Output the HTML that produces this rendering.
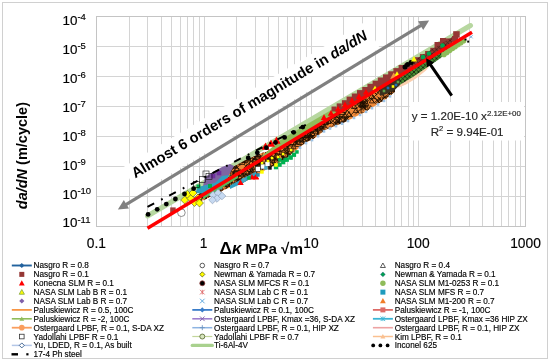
<!DOCTYPE html>
<html><head><meta charset="utf-8"><style>
html,body{margin:0;padding:0;background:#fff;}
svg{display:block;will-change:transform;}
text{paint-order:stroke;}
.lg{stroke:#000;stroke-width:0.15px;}
</style></head><body>
<svg width="550" height="361" viewBox="0 0 550 361">
<rect x="2.5" y="2.5" width="545" height="356" fill="#fff" stroke="#d0d0d0" stroke-width="1"/>
<path d="M129.5 16.5V226.5 M147.5 16.5V226.5 M161.5 16.5V226.5 M171.5 16.5V226.5 M180.5 16.5V226.5 M187.5 16.5V226.5 M193.5 16.5V226.5 M199.5 16.5V226.5 M204.5 16.5V226.5 M236.5 16.5V226.5 M255.5 16.5V226.5 M268.5 16.5V226.5 M278.5 16.5V226.5 M287.5 16.5V226.5 M294.5 16.5V226.5 M300.5 16.5V226.5 M306.5 16.5V226.5 M311.5 16.5V226.5 M343.5 16.5V226.5 M362.5 16.5V226.5 M375.5 16.5V226.5 M386.5 16.5V226.5 M394.5 16.5V226.5 M401.5 16.5V226.5 M408.5 16.5V226.5 M413.5 16.5V226.5 M418.5 16.5V226.5 M450.5 16.5V226.5 M469.5 16.5V226.5 M482.5 16.5V226.5 M493.5 16.5V226.5 M501.5 16.5V226.5 M508.5 16.5V226.5 M515.5 16.5V226.5 M520.5 16.5V226.5 M96.5 46.5H525.5 M96.5 76.5H525.5 M96.5 106.5H525.5 M96.5 136.5H525.5 M96.5 166.5H525.5 M96.5 196.5H525.5" stroke="#d4d4d4" stroke-width="1" fill="none"/>
<rect x="96.5" y="16.5" width="429" height="210" fill="none" stroke="#c4c4c4" stroke-width="1"/>
<g transform="translate(135.2,178.6) rotate(-31.0)"><rect x="-5" y="-16" width="282" height="30" fill="#fff"/><text x="0" y="0" font-family='"Liberation Sans", sans-serif' font-size="14.8" font-weight="bold" fill="#000">Almost 6 orders of magnitude in <tspan font-style="italic">da/dN</tspan></text></g>
<defs><pattern id="xh" width="5" height="5" patternUnits="userSpaceOnUse"><path d="M0 0L5 5M5 0L0 5M-1 4L1 6M4 -1L6 1" stroke="#2a1200" stroke-width="1.5"/></pattern><pattern id="xh2" width="4.5" height="4.5" patternUnits="userSpaceOnUse"><path d="M0 0L4.5 4.5M4.5 0L0 4.5" stroke="#000" stroke-width="0.7"/></pattern></defs>
<line x1="147.5" y1="216" x2="470.5" y2="25.5" stroke="#b7d7a0" stroke-width="5" stroke-linecap="round"/>
<polygon points="196.0,203.0 205.0,199.6 215.0,194.5 225.0,189.5 235.0,185.4 245.0,181.4 255.0,176.4 265.0,170.3 275.0,165.3 285.0,159.2 295.0,151.2 305.0,143.1 315.0,138.1 325.0,130.1 335.0,126.0 345.0,122.0 355.0,116.9 365.0,111.9 375.0,105.8 385.0,99.8 395.0,91.8 395.0,77.8 300.0,135.2 270.0,150.3 250.0,158.4 235.0,166.4 222.0,175.3 210.0,185.6 196.0,196.0" fill="#f08a3a" />
<clipPath id="clo"><polygon points="196.0,203.0 205.0,199.6 215.0,194.5 225.0,189.5 235.0,185.4 245.0,181.4 255.0,176.4 265.0,170.3 275.0,165.3 285.0,159.2 295.0,151.2 305.0,143.1 315.0,138.1 325.0,130.1 335.0,126.0 345.0,122.0 355.0,116.9 365.0,111.9 375.0,105.8 385.0,99.8 395.0,91.8 395.0,77.8 300.0,135.2 270.0,150.3 250.0,158.4 235.0,166.4 222.0,175.3 210.0,185.6 196.0,196.0"/></clipPath>
<path d="M284.1 144.1L290.7 150.7M284.1 150.7L290.7 144.1 M296.2 137.5L301.0 142.4M296.2 142.4L301.0 137.5 M320.9 125.4L325.5 130.0M320.9 130.0L325.5 125.4 M211.3 188.8L217.3 194.9M211.3 194.9L217.3 188.8 M391.4 88.5h6.0v6.0h-6.0z M225.0 168.2L230.6 173.9M225.0 173.9L230.6 168.2 M232.2 169.1L236.7 173.6M232.2 173.6L236.7 169.1 M282.2 152.8h5.6v5.6h-5.6z M294.2 139.9L299.7 145.4M294.2 145.4L299.7 139.9 M394.3 86.4h6.4v6.4h-6.4z M257.1 154.0L262.2 159.1M257.1 159.1L262.2 154.0 M347.6 102.3L354.0 108.7M347.6 108.7L354.0 102.3 M387.3 90.4L391.7 94.8M387.3 94.8L391.7 90.4 M376.5 86.8L383.3 93.6M376.5 93.6L383.3 86.8 M207.6 187.8L213.9 194.0M207.6 194.0L213.9 187.8 M210.2 181.3h6.7v6.7h-6.7z M217.5 177.4L222.2 182.0M217.5 182.0L222.2 177.4 M354.1 94.0L359.9 99.7M354.1 99.7L359.9 94.0 M232.2 178.2h4.7v4.7h-4.7z M217.1 180.3L222.0 185.2M217.1 185.2L222.0 180.3 M392.1 87.1L394.7 91.7H389.6z M235.3 168.8h6.5v6.5h-6.5z M213.8 191.3L218.7 196.2M213.8 196.2L218.7 191.3 M349.5 100.6L354.6 105.7M349.5 105.7L354.6 100.6 M211.7 185.8h5.0v5.0h-5.0z M267.7 151.5L274.4 158.2M267.7 158.2L274.4 151.5 M309.6 134.5L314.5 139.4M309.6 139.4L314.5 134.5 M377.0 96.3L382.0 101.3M377.0 101.3L382.0 96.3 M345.4 118.0L347.8 122.4H342.9z M371.5 94.1L376.9 99.5M371.5 99.5L376.9 94.1 M201.3 197.0h5.0v5.0h-5.0z M245.0 173.3L250.8 179.1M245.0 179.1L250.8 173.3 M229.2 179.5L233.7 184.1M229.2 184.1L233.7 179.5 M306.1 135.3L311.9 141.2M306.1 141.2L311.9 135.3 M379.1 80.7L383.5 85.2M379.1 85.2L383.5 80.7 M283.6 134.6L288.4 139.4M283.6 139.4L288.4 134.6 M311.6 120.1L314.2 124.9H308.9z M391.0 81.9h6.1v6.1h-6.1z M224.4 171.3L226.6 175.3H222.1z M335.4 122.0h4.5v4.5h-4.5z M293.4 144.1L296.0 148.8H290.8z M211.2 186.3L214.3 191.8H208.1z M344.9 112.4L348.0 118.0H341.7z M267.1 159.0L270.4 164.9H263.8z M277.0 154.0h6.5v6.5h-6.5z M319.3 117.9h5.8v5.8h-5.8z M212.2 186.9L215.6 193.0H208.8z M340.0 106.4h6.2v6.2h-6.2z M282.7 153.2h4.6v4.6h-4.6z M199.2 192.2L204.8 197.8M199.2 197.8L204.8 192.2 M337.1 112.0L340.0 117.3H334.1z M245.1 156.5h5.1v5.1h-5.1z M233.6 165.3h6.6v6.6h-6.6z M282.7 153.9h5.2v5.2h-5.2z M236.1 170.9L239.3 176.6H232.9z M370.9 88.9L376.7 94.7M370.9 94.7L376.7 88.9 M223.5 178.6L226.7 184.3H220.3z M337.1 120.6L342.2 125.6M337.1 125.6L342.2 120.6 M284.6 138.8L289.5 143.7M284.6 143.7L289.5 138.8 M322.4 120.2L325.0 124.8H319.8z M392.1 77.9L396.7 82.4M392.1 82.4L396.7 77.9 M369.3 81.4h6.1v6.1h-6.1z M256.2 167.5L260.6 171.9M256.2 171.9L260.6 167.5 M284.7 131.9L291.1 138.2M284.7 138.2L291.1 131.9 M221.5 170.7L227.4 176.6M221.5 176.6L227.4 170.7 M323.3 122.0L326.4 127.7H320.1z M331.5 107.6L337.0 113.2M331.5 113.2L337.0 107.6 M195.1 192.0L201.2 198.1M195.1 198.1L201.2 192.0 M248.0 161.2L254.1 167.3M248.0 167.3L254.1 161.2 M317.4 126.7h5.3v5.3h-5.3z M375.7 78.2h6.6v6.6h-6.6z M222.2 178.8L225.2 184.1H219.3z M268.9 153.7h6.5v6.5h-6.5z M383.8 82.7L389.7 88.7M383.8 88.7L389.7 82.7 M338.9 116.4h5.9v5.9h-5.9z M239.1 178.4L242.5 184.5H235.7z M304.5 137.0L307.0 141.6H301.9z M366.6 91.6L371.2 96.2M366.6 96.2L371.2 91.6 M304.4 134.8L309.9 140.4M304.4 140.4L309.9 134.8 M356.3 89.6L362.6 95.9M356.3 95.9L362.6 89.6 M261.3 164.1L266.0 168.8M261.3 168.8L266.0 164.1 M297.1 138.2h6.4v6.4h-6.4z M383.7 82.9L390.4 89.5M383.7 89.5L390.4 82.9 M238.2 171.1h5.1v5.1h-5.1z M321.8 118.2h6.4v6.4h-6.4z M259.0 157.1L262.2 162.9H255.7z M234.7 177.9L241.4 184.6M234.7 184.6L241.4 177.9 M308.9 121.2L314.6 126.9M308.9 126.9L314.6 121.2 M314.9 113.3L321.6 120.0M314.9 120.0L321.6 113.3 M274.0 156.7L279.8 162.4M274.0 162.4L279.8 156.7 M332.7 104.1L338.4 109.8M332.7 109.8L338.4 104.1 M386.8 92.1L391.8 97.1M386.8 97.1L391.8 92.1 M221.6 178.6L224.8 184.3H218.5z M289.8 136.3h4.9v4.9h-4.9z M379.8 77.0L386.0 83.3M379.8 83.3L386.0 77.0 M232.2 167.6L238.2 173.7M232.2 173.7L238.2 167.6 M265.5 158.1h4.7v4.7h-4.7z M218.3 181.0L223.3 186.0M218.3 186.0L223.3 181.0 M300.5 131.1L305.8 136.4M300.5 136.4L305.8 131.1 M300.5 126.1h4.9v4.9h-4.9z M321.7 118.4h6.4v6.4h-6.4z M369.1 87.9L372.2 93.5H366.0z M378.3 84.8L380.9 89.5H375.8z M236.8 180.1L243.3 186.6M236.8 186.6L243.3 180.1 M241.8 173.5L246.9 178.5M241.8 178.5L246.9 173.5 M361.0 95.4L367.2 101.7M361.0 101.7L367.2 95.4 M275.1 154.4L279.6 158.8M275.1 158.8L279.6 154.4 M330.5 121.4L337.2 128.1M330.5 128.1L337.2 121.4 M295.3 140.9h5.6v5.6h-5.6z M231.9 165.9L236.5 170.6M231.9 170.6L236.5 165.9 M304.6 129.7L310.3 135.5M304.6 135.5L310.3 129.7 M233.3 168.1L236.5 173.9H230.1z M383.2 76.9L385.5 81.0H381.0z M286.7 147.9L291.9 153.1M286.7 153.1L291.9 147.9 M297.2 132.8L303.0 138.6M297.2 138.6L303.0 132.8 M335.2 119.4L340.0 124.2M335.2 124.2L340.0 119.4 M342.9 106.3L347.8 111.1M342.9 111.1L347.8 106.3 M299.5 124.5L302.8 130.4H296.3z M335.4 118.8L341.3 124.7M335.4 124.7L341.3 118.8 M317.1 123.3L320.5 129.4H313.7z M245.1 174.8h6.2v6.2h-6.2z M360.6 96.9L363.8 102.8H357.3z M333.2 117.6L339.5 123.9M333.2 123.9L339.5 117.6 M339.4 100.7L344.6 105.9M339.4 105.9L344.6 100.7 M195.2 190.5h5.9v5.9h-5.9z M239.9 178.1L245.9 184.1M239.9 184.1L245.9 178.1 M326.4 117.4L332.1 123.1M326.4 123.1L332.1 117.4 M394.9 78.7h6.1v6.1h-6.1z M391.0 67.9h5.9v5.9h-5.9z M245.6 165.0L250.1 169.5M245.6 169.5L250.1 165.0 M271.9 143.9L274.4 148.4H269.4z M303.8 129.3h6.7v6.7h-6.7z M393.8 79.2L400.2 85.5M393.8 85.5L400.2 79.2 M316.7 129.7L319.0 133.8H314.4z M225.9 176.4L230.7 181.2M225.9 181.2L230.7 176.4 M316.1 113.2L322.8 119.9M316.1 119.9L322.8 113.2 M299.8 134.7L305.0 140.0M299.8 140.0L305.0 134.7 M325.8 118.0h5.1v5.1h-5.1z M253.3 151.7L258.3 156.7M253.3 156.7L258.3 151.7 M227.6 181.5L230.3 186.3H225.0z M347.2 96.4L350.6 102.5H343.8z M208.1 192.4L213.6 197.9M208.1 197.9L213.6 192.4 M392.6 73.9L395.4 79.0H389.8z M342.0 108.4L345.4 114.5H338.6z M315.0 115.6L320.9 121.5M315.0 121.5L320.9 115.6 M234.3 163.3L240.0 169.0M234.3 169.0L240.0 163.3 M282.7 148.5L288.2 154.0M282.7 154.0L288.2 148.5 M310.5 124.1L316.7 130.4M310.5 130.4L316.7 124.1 M394.4 85.6L400.6 91.8M394.4 91.8L400.6 85.6 M215.9 187.6h6.3v6.3h-6.3z M265.5 149.2h6.0v6.0h-6.0z M312.4 127.3L318.6 133.5M312.4 133.5L318.6 127.3 M246.3 177.0L249.6 183.0H243.0z M201.5 183.6L206.5 188.6M201.5 188.6L206.5 183.6 M319.1 113.0L324.8 118.7M319.1 118.7L324.8 113.0 M210.6 187.3h5.7v5.7h-5.7z M268.9 152.8L273.8 157.7M268.9 157.7L273.8 152.8 M344.2 115.4L348.7 120.0M344.2 120.0L348.7 115.4 M356.3 102.7L362.6 109.0M356.3 109.0L362.6 102.7 M278.5 141.0L284.9 147.3M278.5 147.3L284.9 141.0 M325.4 126.0L330.6 131.2M325.4 131.2L330.6 126.0 M344.0 116.6L349.4 122.1M344.0 122.1L349.4 116.6 M213.3 189.9L217.9 194.5M213.3 194.5L217.9 189.9 M306.9 127.6L313.0 133.6M306.9 133.6L313.0 127.6 M350.2 94.6h4.9v4.9h-4.9z M209.4 181.8h6.1v6.1h-6.1z M250.5 156.0h5.3v5.3h-5.3z M267.0 144.9h6.1v6.1h-6.1z M378.3 97.2L384.8 103.7M378.3 103.7L384.8 97.2 M355.6 96.5L360.8 101.7M355.6 101.7L360.8 96.5 M382.3 94.9L387.3 99.9M382.3 99.9L387.3 94.9 M267.2 150.9L272.5 156.2M267.2 156.2L272.5 150.9 M232.2 173.8L238.5 180.1M232.2 180.1L238.5 173.8 M362.5 99.0h4.8v4.8h-4.8z M371.7 87.0L376.2 91.5M371.7 91.5L376.2 87.0 M302.6 131.1h6.7v6.7h-6.7z M355.6 90.5h5.7v5.7h-5.7z M213.0 178.0L216.1 183.5H209.9z M210.7 187.3h4.7v4.7h-4.7z M324.6 112.9h4.9v4.9h-4.9z M298.7 138.8L304.0 144.1M298.7 144.1L304.0 138.8 M388.8 84.3L394.4 89.9M388.8 89.9L394.4 84.3 M338.3 113.8L344.9 120.4M338.3 120.4L344.9 113.8 M362.9 101.8L366.1 107.6H359.7z M361.1 106.2h6.7v6.7h-6.7z M298.7 136.9L305.0 143.2M298.7 143.2L305.0 136.9 M280.9 139.0L284.0 144.5H277.8z M269.4 145.5L274.3 150.4M269.4 150.4L274.3 145.5 M252.7 173.4L257.3 178.0M252.7 178.0L257.3 173.4 M216.1 183.5L222.3 189.8M216.1 189.8L222.3 183.5 M208.6 186.6L211.5 191.8H205.7z M200.9 184.7L205.8 189.6M200.9 189.6L205.8 184.7 M240.6 173.2L246.5 179.0M240.6 179.0L246.5 173.2 M231.0 170.3h4.8v4.8h-4.8z M255.8 160.8L262.2 167.2M255.8 167.2L262.2 160.8 M245.3 173.9L251.9 180.5M245.3 180.5L251.9 173.9 M303.8 138.8L309.3 144.3M303.8 144.3L309.3 138.8 M202.9 195.1L209.2 201.4M202.9 201.4L209.2 195.1 M302.6 133.1L305.1 137.7H300.0z M326.6 112.0L331.0 116.4M326.6 116.4L331.0 112.0 M268.0 159.6h6.1v6.1h-6.1z M225.2 171.0L230.4 176.2M225.2 176.2L230.4 171.0 M371.6 93.3L374.6 98.7H368.6z M247.5 166.6h4.8v4.8h-4.8z M196.3 197.4L199.5 203.2H193.1z M209.6 181.2L215.7 187.3M209.6 187.3L215.7 181.2 M289.6 138.1h6.7v6.7h-6.7z M366.0 89.5L372.3 95.8M366.0 95.8L372.3 89.5 M378.0 77.1L384.4 83.5M378.0 83.5L384.4 77.1 M305.8 131.3L308.2 135.6H303.4z M256.6 156.5L261.2 161.1M256.6 161.1L261.2 156.5 M287.7 146.0h5.3v5.3h-5.3z M217.4 180.8L220.1 185.7H214.6z M361.4 102.1L365.8 106.6M361.4 106.6L365.8 102.1 M336.5 105.4L342.3 111.2M336.5 111.2L342.3 105.4 M195.0 198.9L201.3 205.3M195.0 205.3L201.3 198.9 M317.8 117.7L323.1 123.0M317.8 123.0L323.1 117.7 M253.6 158.4h5.3v5.3h-5.3z M244.7 159.9L250.9 166.0M244.7 166.0L250.9 159.9 M383.8 84.9L390.0 91.0M383.8 91.0L390.0 84.9 M360.7 88.9L365.4 93.6M360.7 93.6L365.4 88.9 M330.5 118.7L335.3 123.6M330.5 123.6L335.3 118.7 M362.7 99.8L367.4 104.4M362.7 104.4L367.4 99.8 M225.0 170.3L230.4 175.7M225.0 175.7L230.4 170.3 M379.2 85.1h5.6v5.6h-5.6z M348.2 112.3L353.6 117.6M348.2 117.6L353.6 112.3 M276.6 137.4h5.4v5.4h-5.4z M391.4 84.6h6.0v6.0h-6.0z M197.1 189.7h5.2v5.2h-5.2z M214.7 180.4h5.6v5.6h-5.6z M360.3 101.4h4.8v4.8h-4.8z M375.8 90.3L381.0 95.6M375.8 95.6L381.0 90.3 M221.3 181.4L228.0 188.2M221.3 188.2L228.0 181.4 M340.5 117.9L342.9 122.3H338.1z M320.4 114.8L325.0 119.4M320.4 119.4L325.0 114.8 M312.5 130.8L315.0 135.5H309.9z M269.0 153.9L271.3 158.2H266.6z M220.5 185.8h5.7v5.7h-5.7z M309.2 123.5L312.5 129.4H305.9z M361.1 102.1L363.5 106.3H358.8z M251.8 172.0h5.0v5.0h-5.0z M361.0 90.2L366.7 95.9M361.0 95.9L366.7 90.2 M202.5 185.3L205.9 191.4H199.1z M326.0 112.4h6.0v6.0h-6.0z M269.9 153.8L276.3 160.1M269.9 160.1L276.3 153.8 M233.9 172.3L238.7 177.0M233.9 177.0L238.7 172.3 M308.2 121.1L313.9 126.7M308.2 126.7L313.9 121.1 M307.8 124.2L313.7 130.1M307.8 130.1L313.7 124.2 M328.2 107.6h6.7v6.7h-6.7z M288.0 138.7h5.9v5.9h-5.9z M349.1 111.5L351.9 116.6H346.3z M362.6 105.5L368.0 110.9M362.6 110.9L368.0 105.5 M307.5 135.8L313.2 141.4M307.5 141.4L313.2 135.8 M280.7 155.5L285.9 160.6M280.7 160.6L285.9 155.5 M339.5 117.7h6.2v6.2h-6.2z M345.0 102.1L350.8 107.9M345.0 107.9L350.8 102.1 M218.3 179.4L223.9 185.1M218.3 185.1L223.9 179.4 M203.7 191.4L209.3 197.0M203.7 197.0L209.3 191.4 M255.4 158.8L260.4 163.8M255.4 163.8L260.4 158.8 M380.1 99.0L383.1 104.4H377.1z M278.7 154.6h4.9v4.9h-4.9z M308.2 136.2h4.6v4.6h-4.6z M217.7 180.5L224.3 187.2M217.7 187.2L224.3 180.5 M242.7 163.9L247.9 169.1M242.7 169.1L247.9 163.9 M374.1 97.6L379.5 103.0M374.1 103.0L379.5 97.6 M314.3 117.2L316.5 121.2H312.0z M258.2 160.1L261.5 166.1H254.9z M291.5 134.3L294.0 138.8H288.9z M373.9 82.0L380.4 88.4M373.9 88.4L380.4 82.0 M291.4 132.8L294.7 138.7H288.2z M236.8 175.2L239.2 179.5H234.4z M203.0 182.4L209.2 188.6M203.0 188.6L209.2 182.4 M374.8 97.9L380.9 104.0M374.8 104.0L380.9 97.9 M333.8 121.4L339.3 126.9M333.8 126.9L339.3 121.4 M238.0 165.9L244.1 172.0M238.0 172.0L244.1 165.9 M229.6 169.3h6.0v6.0h-6.0z M268.0 156.3h6.5v6.5h-6.5z M238.9 164.9h6.6v6.6h-6.6z M251.9 167.8L254.2 172.0H249.6z M282.1 145.6L287.8 151.3M282.1 151.3L287.8 145.6 M317.1 119.9L319.6 124.4H314.6z M210.5 180.8L216.7 187.0M210.5 187.0L216.7 180.8 M252.4 165.4L254.8 169.8H250.0z M392.8 67.4h5.5v5.5h-5.5z M270.9 161.5L276.5 167.1M270.9 167.1L276.5 161.5 M305.7 132.0h5.3v5.3h-5.3z M354.2 103.5L357.0 108.5H351.4z M330.9 113.5L337.6 120.2M330.9 120.2L337.6 113.5 M350.6 95.7L356.4 101.5M350.6 101.5L356.4 95.7 M281.8 150.9h6.3v6.3h-6.3z M241.2 168.9h4.9v4.9h-4.9z M293.9 126.9h5.8v5.8h-5.8z M309.3 134.9L314.1 139.7M309.3 139.7L314.1 134.9 M196.9 192.0L202.3 197.4M196.9 197.4L202.3 192.0 M249.1 172.7L251.4 176.8H246.8z M307.8 128.1L314.1 134.4M307.8 134.4L314.1 128.1 M223.3 175.2L227.8 179.7M223.3 179.7L227.8 175.2 M319.0 121.5h5.0v5.0h-5.0z M211.5 189.8L216.3 194.7M211.5 194.7L216.3 189.8 M225.1 179.5h6.4v6.4h-6.4z M205.7 186.2L211.0 191.5M205.7 191.5L211.0 186.2 M389.3 69.7h5.6v5.6h-5.6z M392.5 70.1h5.5v5.5h-5.5z M200.7 185.5L207.2 192.0M200.7 192.0L207.2 185.5 M272.7 146.2L278.1 151.6M272.7 151.6L278.1 146.2 M199.8 197.2h6.2v6.2h-6.2z M239.6 164.3L245.3 170.0M239.6 170.0L245.3 164.3 M286.6 151.7L291.9 157.0M286.6 157.0L291.9 151.7 M392.0 81.5L396.5 86.0M392.0 86.0L396.5 81.5 M324.6 109.2h5.2v5.2h-5.2z M367.3 95.4L373.9 101.9M367.3 101.9L373.9 95.4 M272.7 158.8h5.3v5.3h-5.3z M237.1 168.2L241.9 173.1M237.1 173.1L241.9 168.2 M226.6 171.2L231.6 176.1M226.6 176.1L231.6 171.2 M254.9 158.8h6.8v6.8h-6.8z M367.6 87.0L372.9 92.3M367.6 92.3L372.9 87.0 M333.1 110.4L338.2 115.5M333.1 115.5L338.2 110.4 M232.8 170.0L235.4 174.8H230.1z M337.8 105.7L343.1 111.0M337.8 111.0L343.1 105.7 M382.1 81.2h6.2v6.2h-6.2z M376.6 77.2L381.8 82.4M376.6 82.4L381.8 77.2 M210.2 191.2h5.2v5.2h-5.2z M298.2 125.0L303.6 130.4M298.2 130.4L303.6 125.0 M201.3 184.4L207.2 190.2M201.3 190.2L207.2 184.4 M256.2 158.4L261.9 164.1M256.2 164.1L261.9 158.4 M335.7 106.1h6.1v6.1h-6.1z M223.2 173.0h5.1v5.1h-5.1z M274.6 146.2L281.1 152.7M274.6 152.7L281.1 146.2 M252.5 159.5L257.5 164.4M252.5 164.4L257.5 159.5 M201.0 193.0L203.8 198.2H198.1z M393.1 74.6L396.1 80.0H390.1z M239.7 174.4L242.7 179.8H236.7z M368.5 86.7L374.4 92.6M368.5 92.6L374.4 86.7 M280.1 144.6L284.7 149.1M280.1 149.1L284.7 144.6 M259.8 158.4L264.8 163.4M259.8 163.4L264.8 158.4 M274.9 149.4h4.8v4.8h-4.8z M241.8 160.1L247.1 165.3M241.8 165.3L247.1 160.1 M223.4 178.6h6.1v6.1h-6.1z M334.8 102.3L340.1 107.7M334.8 107.7L340.1 102.3 M206.4 186.3L211.0 190.8M206.4 190.8L211.0 186.3 M311.8 125.3L316.9 130.4M311.8 130.4L316.9 125.3 M197.5 188.8h6.5v6.5h-6.5z M246.5 169.9L251.3 174.8M246.5 174.8L251.3 169.9 M317.6 130.4h5.3v5.3h-5.3z M383.4 90.3h5.9v5.9h-5.9z M279.0 146.9L281.5 151.4H276.5z M370.4 88.5L377.0 95.1M370.4 95.1L377.0 88.5 M220.9 179.4L226.0 184.5M220.9 184.5L226.0 179.4 M390.9 71.7L395.8 76.5M390.9 76.5L395.8 71.7 M331.2 109.4L335.6 113.8M331.2 113.8L335.6 109.4 M272.8 144.6h5.6v5.6h-5.6z M306.7 132.2L309.6 137.4H303.8z M391.7 76.7L394.3 81.4H389.1z M256.3 164.5h6.1v6.1h-6.1z M388.3 88.8h4.8v4.8h-4.8z M292.5 139.3L297.8 144.6M292.5 144.6L297.8 139.3 M344.8 108.0L349.8 112.9M344.8 112.9L349.8 108.0 M258.8 151.4L264.5 157.1M258.8 157.1L264.5 151.4 M206.5 181.0h4.6v4.6h-4.6z M215.7 180.5L221.9 186.8M215.7 186.8L221.9 180.5 M225.6 182.3L232.1 188.8M225.6 188.8L232.1 182.3 M244.1 166.6L250.4 173.0M244.1 173.0L250.4 166.6 M337.6 104.9L343.7 111.0M337.6 111.0L343.7 104.9 M263.4 162.8L266.6 168.5H260.2z M307.6 125.9h6.1v6.1h-6.1z M361.5 105.4L366.2 110.1M361.5 110.1L366.2 105.4 M328.8 110.3L333.6 115.2M328.8 115.2L333.6 110.3 M310.9 133.9L317.6 140.7M310.9 140.7L317.6 133.9 M331.9 111.5L337.9 117.4M331.9 117.4L337.9 111.5 M382.3 97.6h4.5v4.5h-4.5z M217.4 173.7h5.1v5.1h-5.1z M394.1 68.7L399.3 73.9M394.1 73.9L399.3 68.7 M302.9 130.3L308.2 135.6M302.9 135.6L308.2 130.3 M355.2 109.3L360.2 114.4M355.2 114.4L360.2 109.3 M317.4 125.7L324.2 132.4M317.4 132.4L324.2 125.7 M333.0 113.2L339.4 119.5M333.0 119.5L339.4 113.2 M228.0 167.3L234.7 173.9M228.0 173.9L234.7 167.3 M292.0 130.4L297.2 135.5M292.0 135.5L297.2 130.4 M307.4 120.8L313.3 126.7M307.4 126.7L313.3 120.8 M239.3 169.4L244.6 174.7M239.3 174.7L244.6 169.4 M203.1 181.5L209.6 188.0M203.1 188.0L209.6 181.5 M211.8 180.5L214.6 185.5H209.1z M234.1 179.4L239.6 184.9M234.1 184.9L239.6 179.4 M356.7 98.5h4.5v4.5h-4.5z M328.7 119.0L331.2 123.5H326.2z M370.6 105.6L373.4 110.5H367.9z M340.2 103.1L344.7 107.5M340.2 107.5L344.7 103.1 M217.4 174.1h5.3v5.3h-5.3z M256.4 161.3L260.8 165.7M256.4 165.7L260.8 161.3 M389.8 70.3L392.6 75.4H386.9z M356.0 107.6L358.7 112.4H353.4z M359.8 103.9L366.6 110.7M359.8 110.7L366.6 103.9 M384.9 80.4L391.0 86.5M384.9 86.5L391.0 80.4 M376.9 76.7L382.6 82.4M376.9 82.4L382.6 76.7 M274.5 148.1L277.4 153.5H271.5z M267.0 157.2L272.3 162.5M267.0 162.5L272.3 157.2 M376.5 84.9L381.2 89.6M376.5 89.6L381.2 84.9 M342.7 101.1L348.9 107.2M342.7 107.2L348.9 101.1 M331.1 108.1L335.7 112.8M331.1 112.8L335.7 108.1 M264.6 154.6L269.0 159.0M264.6 159.0L269.0 154.6 M277.5 145.3L280.3 150.5H274.6z M234.8 179.6h5.2v5.2h-5.2z M217.9 190.2L220.6 195.0H215.2z M237.3 168.4L243.4 174.4M237.3 174.4L243.4 168.4 M247.9 168.0L254.6 174.6M247.9 174.6L254.6 168.0 M229.7 170.9L236.4 177.7M229.7 177.7L236.4 170.9 M321.2 116.4L327.2 122.4M321.2 122.4L327.2 116.4 M317.3 128.3h6.5v6.5h-6.5z M298.0 137.6L300.3 141.8H295.6z M332.3 111.9L338.3 117.9M332.3 117.9L338.3 111.9 M270.8 145.4h5.8v5.8h-5.8z M297.1 124.8L303.0 130.7M297.1 130.7L303.0 124.8 M312.5 126.1L319.2 132.7M312.5 132.7L319.2 126.1 M287.6 151.4L293.8 157.6M287.6 157.6L293.8 151.4 M344.8 119.1L347.5 124.0H342.1z M218.8 188.3L224.4 193.8M218.8 193.8L224.4 188.3 M365.7 99.7L369.0 105.7H362.4z M353.7 101.1L360.5 107.9M353.7 107.9L360.5 101.1 M371.8 98.4L374.3 102.9H369.3z M284.5 143.4L291.0 149.9M284.5 149.9L291.0 143.4" stroke="#1e0f00" stroke-width="0.8" fill="none" clip-path="url(#clo)"/>
<polygon points="392.0,89.6 400.0,85.7 410.0,79.7 420.0,72.7 430.0,65.6 440.0,58.6 448.0,51.7 455.0,45.5 455.0,42.5 392.0,80.6" fill="#4a8c34" />
<polygon points="392.0,89.6 400.0,85.7 410.0,79.7 420.0,72.7 430.0,65.6 440.0,58.6 448.0,51.7 455.0,45.5 455.0,42.5 392.0,80.6" fill="url(#xh2)" opacity="0.9"/>
<polygon points="380.0,88.8 400.0,76.7 400.0,84.7 395.0,89.8 386.0,94.2 380.0,95.8" fill="#3a3020" />
<rect x="386.7" y="86.7" width="2.6" height="2.6" fill="#1f6fb0" stroke="none" stroke-width="0.5"/>
<rect x="391.7" y="85.2" width="2.6" height="2.6" fill="#ffff00" stroke="none" stroke-width="0.5"/>
<rect x="396.7" y="80.7" width="2.6" height="2.6" fill="#5ea04a" stroke="none" stroke-width="0.5"/>
<rect x="382.7" y="89.7" width="2.6" height="2.6" fill="#5ea04a" stroke="none" stroke-width="0.5"/>
<rect x="394.7" y="83.7" width="2.6" height="2.6" fill="#1f6fb0" stroke="none" stroke-width="0.5"/>
<polygon points="398.0,87.9 406.0,84.6 416.0,78.6 426.0,70.5 430.0,65.6 412.0,77.5 400.0,84.7" fill="#fbcfae" />
<circle cx="444.0" cy="54.4" r="2.8" fill="#8fbc5a" stroke="none" stroke-width="0.5"/>
<circle cx="446.8" cy="52.4" r="2.8" fill="#8fbc5a" stroke="none" stroke-width="0.5"/>
<circle cx="449.6" cy="50.5" r="2.8" fill="#8fbc5a" stroke="none" stroke-width="0.5"/>
<circle cx="452.4" cy="48.5" r="2.8" fill="#8fbc5a" stroke="none" stroke-width="0.5"/>
<circle cx="455.2" cy="46.6" r="2.8" fill="#8fbc5a" stroke="none" stroke-width="0.5"/>
<circle cx="458.0" cy="44.6" r="2.8" fill="#8fbc5a" stroke="none" stroke-width="0.5"/>
<circle cx="460.8" cy="42.7" r="2.8" fill="#8fbc5a" stroke="none" stroke-width="0.5"/>
<circle cx="463.6" cy="40.8" r="2.8" fill="#8fbc5a" stroke="none" stroke-width="0.5"/>
<polygon points="262.0,156.1 280.0,140.3 300.0,128.2 350.0,99.0 400.0,69.7 445.0,43.5 445.0,48.5 262.0,159.1" fill="#8fbc5a" />
<polygon points="336.0,111.4 350.0,100.0 420.0,57.7 420.0,62.7 336.0,113.4" fill="#953735" />
<rect x="331.5" y="106.5" width="5" height="5" fill="#953735" stroke="none" stroke-width="0.5"/>
<rect x="336.7" y="103.4" width="5" height="5" fill="#953735" stroke="none" stroke-width="0.5"/>
<rect x="341.9" y="100.2" width="5" height="5" fill="#953735" stroke="none" stroke-width="0.5"/>
<rect x="346.6" y="96.6" width="6" height="6" fill="#953735" stroke="none" stroke-width="0.5"/>
<rect x="351.8" y="93.5" width="6" height="6" fill="#953735" stroke="none" stroke-width="0.5"/>
<rect x="357.0" y="90.1" width="6" height="6" fill="#953735" stroke="none" stroke-width="0.5"/>
<rect x="362.2" y="87.0" width="6" height="6" fill="#953735" stroke="none" stroke-width="0.5"/>
<rect x="367.4" y="83.8" width="6" height="6" fill="#953735" stroke="none" stroke-width="0.5"/>
<rect x="372.6" y="80.7" width="6" height="6" fill="#953735" stroke="none" stroke-width="0.5"/>
<rect x="377.8" y="77.5" width="6" height="6" fill="#953735" stroke="none" stroke-width="0.5"/>
<rect x="383.0" y="74.4" width="6" height="6" fill="#953735" stroke="none" stroke-width="0.5"/>
<rect x="388.2" y="71.3" width="6" height="6" fill="#953735" stroke="none" stroke-width="0.5"/>
<rect x="393.4" y="68.1" width="6" height="6" fill="#953735" stroke="none" stroke-width="0.5"/>
<rect x="398.6" y="65.0" width="6" height="6" fill="#953735" stroke="none" stroke-width="0.5"/>
<rect x="404.3" y="63.5" width="5" height="5" fill="#953735" stroke="none" stroke-width="0.5"/>
<rect x="409.5" y="60.4" width="5" height="5" fill="#953735" stroke="none" stroke-width="0.5"/>
<rect x="414.7" y="57.2" width="5" height="5" fill="#953735" stroke="none" stroke-width="0.5"/>
<rect x="419.9" y="54.1" width="5" height="5" fill="#953735" stroke="none" stroke-width="0.5"/>
<rect x="425.1" y="51.0" width="5" height="5" fill="#953735" stroke="none" stroke-width="0.5"/>
<rect x="430.3" y="47.8" width="5" height="5" fill="#953735" stroke="none" stroke-width="0.5"/>
<rect x="435.5" y="44.7" width="5" height="5" fill="#953735" stroke="none" stroke-width="0.5"/>
<rect x="440.7" y="41.5" width="5" height="5" fill="#953735" stroke="none" stroke-width="0.5"/>
<rect x="445.9" y="38.4" width="5" height="5" fill="#953735" stroke="none" stroke-width="0.5"/>
<rect x="453.2" y="31.2" width="6.5" height="6.5" fill="#953735" stroke="none" stroke-width="0.5"/>
<rect x="452.0" y="36.0" width="6" height="6" fill="#953735" stroke="none" stroke-width="0.5"/>
<rect x="440.0" y="38.0" width="6" height="6" fill="#953735" stroke="none" stroke-width="0.5"/>
<rect x="434.5" y="42.0" width="6" height="6" fill="#953735" stroke="none" stroke-width="0.5"/>
<polygon points="412.0,61.5 452.0,37.3 452.0,44.3 412.0,68.5" fill="#8a3a30" />
<polygon points="412.0,61.5 452.0,37.3 452.0,44.3 412.0,68.5" fill="url(#xh2)" opacity="0.6"/>
<polygon points="320.8,120.0 327.2,120.0 324.0,114.3" fill="#ff0000" stroke="none" stroke-width="0.5"/>
<polygon points="327.8,115.8 334.2,115.8 331.0,110.0" fill="#ff0000" stroke="none" stroke-width="0.5"/>
<polygon points="334.8,111.6 341.2,111.6 338.0,105.8" fill="#ff0000" stroke="none" stroke-width="0.5"/>
<polygon points="341.8,107.3 348.2,107.3 345.0,101.6" fill="#ff0000" stroke="none" stroke-width="0.5"/>
<polygon points="348.8,103.1 355.2,103.1 352.0,97.3" fill="#ff0000" stroke="none" stroke-width="0.5"/>
<polygon points="355.8,98.9 362.2,98.9 359.0,93.1" fill="#ff0000" stroke="none" stroke-width="0.5"/>
<polygon points="362.8,94.6 369.2,94.6 366.0,88.9" fill="#ff0000" stroke="none" stroke-width="0.5"/>
<polygon points="261.5,149.7 269.5,149.7 265.5,142.5" fill="#ff0000" stroke="none" stroke-width="0.5"/>
<polygon points="267.0,146.7 275.0,146.7 271.0,139.5" fill="#ff0000" stroke="none" stroke-width="0.5"/>
<polygon points="272.5,143.7 280.5,143.7 276.5,136.5" fill="#ff0000" stroke="none" stroke-width="0.5"/>
<polygon points="249.0,178.9 255.0,178.9 252.0,173.5" fill="#ff0000" stroke="none" stroke-width="0.5"/>
<polygon points="253.0,178.9 259.0,178.9 256.0,173.5" fill="#ff0000" stroke="none" stroke-width="0.5"/>
<polygon points="237.5,184.9 243.5,184.9 240.5,179.5" fill="#ff0000" stroke="none" stroke-width="0.5"/>
<circle cx="407.5" cy="64.5" r="2.5" fill="#000" stroke="none" stroke-width="0.5"/>
<circle cx="411.0" cy="62.5" r="2.5" fill="#000" stroke="none" stroke-width="0.5"/>
<circle cx="405.0" cy="67.0" r="2.5" fill="#000" stroke="none" stroke-width="0.5"/>
<polygon points="411.0,61.4 417.0,61.4 414.0,56.0" fill="#ffff00" stroke="none" stroke-width="0.5"/>
<polygon points="394.2,76.2 399.8,76.2 397.0,71.2" fill="#ffff00" stroke="none" stroke-width="0.5"/>
<polygon points="372.5,90.0 377.5,90.0 375.0,85.5" fill="#ffff00" stroke="none" stroke-width="0.5"/>
<polygon points="390.2,78.8 397.2,78.8 393.7,72.5" fill="#f79646" stroke="none" stroke-width="0.5"/>
<circle cx="442.5" cy="45.5" r="2.3" fill="#00a850" stroke="none" stroke-width="0.5"/>
<circle cx="429.0" cy="53.5" r="2.3" fill="#00a850" stroke="none" stroke-width="0.5"/>
<circle cx="423.0" cy="57.0" r="2.3" fill="#00a850" stroke="none" stroke-width="0.5"/>
<rect x="464.5" y="38.5" width="2" height="2" fill="#000" stroke="none" stroke-width="0.5"/>
<rect x="467.2" y="40.6" width="2" height="2" fill="#000" stroke="none" stroke-width="0.5"/>
<path d="M469.5 35.2l3.2 3.2M472.7 35.2l-3.2 3.2" stroke="#5b9bd5" stroke-width="0.8"/>
<polygon points="222.0,172.0 232.0,167.5 246.0,160.0 256.0,155.5 264.0,152.0 262.0,156.0 250.0,165.0 236.0,174.0 226.0,180.0" fill="#f08a3a" />
<clipPath id="clob"><polygon points="222.0,172.0 232.0,167.5 246.0,160.0 256.0,155.5 264.0,152.0 262.0,156.0 250.0,165.0 236.0,174.0 226.0,180.0"/></clipPath>
<path d="M248.2 169.1L251.3 174.8H245.0z M250.8 175.4h4.5v4.5h-4.5z M258.3 166.2L264.9 172.8M258.3 172.8L264.9 166.2 M238.8 154.5h5.7v5.7h-5.7z M222.6 154.0L225.1 158.5H220.0z M251.0 151.6L257.3 157.9M251.0 157.9L257.3 151.6 M247.9 151.6L250.1 155.6H245.7z M230.8 153.1L234.2 159.2H227.4z M231.3 176.0h5.7v5.7h-5.7z M230.6 175.2L233.6 180.7H227.6z M256.9 156.3L262.2 161.6M256.9 161.6L262.2 156.3 M225.6 149.4h5.1v5.1h-5.1z M219.5 167.7L224.7 172.9M219.5 172.9L224.7 167.7 M253.8 161.8h5.2v5.2h-5.2z M248.2 148.3L255.0 155.1M248.2 155.1L255.0 148.3 M253.5 173.1L255.7 177.1H251.3z M235.2 165.1L239.6 169.6M235.2 169.6L239.6 165.1 M229.6 176.2L232.0 180.6H227.2z M258.4 175.6L263.7 180.9M258.4 180.9L263.7 175.6 M241.7 170.9h4.7v4.7h-4.7z M255.5 173.5L257.7 177.6H253.2z M225.8 157.3L228.8 162.6H222.9z M233.4 174.9L239.1 180.6M233.4 180.6L239.1 174.9 M233.0 153.0L237.6 157.6M233.0 157.6L237.6 153.0 M248.6 177.5L253.3 182.3M248.6 182.3L253.3 177.5 M260.8 163.3L266.1 168.7M260.8 168.7L266.1 163.3 M244.2 172.0L249.7 177.5M244.2 177.5L249.7 172.0 M222.1 175.2h4.5v4.5h-4.5z M257.2 150.8L260.3 156.4H254.1z M246.1 171.3L250.8 176.0M246.1 176.0L250.8 171.3 M225.7 172.8h5.1v5.1h-5.1z M260.6 172.2h6.7v6.7h-6.7z M239.7 169.1L245.3 174.7M239.7 174.7L245.3 169.1 M239.0 151.7L241.6 156.5H236.3z M259.5 166.0L265.1 171.6M259.5 171.6L265.1 166.0 M225.7 155.0L228.9 160.7H222.6z M234.0 170.5h6.3v6.3h-6.3z M247.3 170.2h5.3v5.3h-5.3z M230.7 161.4h6.2v6.2h-6.2z M231.4 175.4h6.0v6.0h-6.0z M220.0 163.9h5.0v5.0h-5.0z M241.4 171.5L244.4 176.9H238.5z M236.6 166.2L239.7 171.8H233.5z M233.5 172.0h6.5v6.5h-6.5z M260.2 175.9h5.6v5.6h-5.6z M225.7 171.8h6.6v6.6h-6.6z M248.0 168.5L254.1 174.7M248.0 174.7L254.1 168.5 M251.8 164.4L257.8 170.4M251.8 170.4L257.8 164.4 M245.2 170.3h5.9v5.9h-5.9z M220.4 152.1h5.5v5.5h-5.5z M228.2 167.6L234.2 173.5M228.2 173.5L234.2 167.6 M239.5 154.5L244.1 159.1M239.5 159.1L244.1 154.5 M232.9 153.0L237.8 157.9M232.9 157.9L237.8 153.0 M238.6 158.5h5.9v5.9h-5.9z M229.8 174.9L234.2 179.3M229.8 179.3L234.2 174.9 M233.7 160.0L236.0 164.2H231.4z M234.8 148.1L240.6 154.0M234.8 154.0L240.6 148.1 M244.9 157.3L247.8 162.5H242.0z M253.2 159.4h6.4v6.4h-6.4z M234.6 151.3h5.8v5.8h-5.8z M259.3 176.1L265.1 182.0M259.3 182.0L265.1 176.1 M257.2 147.7h4.7v4.7h-4.7z M247.8 151.3L250.8 156.6H244.9z M235.3 160.5L240.3 165.4M235.3 165.4L240.3 160.5 M262.8 158.0L266.2 164.1H259.5z M243.6 154.4h6.8v6.8h-6.8z M236.1 156.2h6.8v6.8h-6.8z M231.7 162.0h4.7v4.7h-4.7z M240.6 155.7L243.8 161.3H237.5z M222.6 163.4L225.1 168.0H220.0z M252.3 154.8L257.4 159.9M252.3 159.9L257.4 154.8 M260.6 155.9h5.9v5.9h-5.9z M246.0 165.0L252.2 171.2M246.0 171.2L252.2 165.0 M251.1 156.2L256.8 161.9M251.1 161.9L256.8 156.2 M231.7 163.1L237.2 168.7M231.7 168.7L237.2 163.1 M251.0 165.5L255.5 170.0M251.0 170.0L255.5 165.5 M237.9 174.2h6.5v6.5h-6.5z M219.9 170.6h5.4v5.4h-5.4z M251.7 166.2L254.5 171.2H249.0z M235.0 158.5L241.4 165.0M235.0 165.0L241.4 158.5 M234.5 172.6L236.7 176.7H232.2z M251.2 160.4L253.7 165.0H248.6z M257.5 151.5h5.5v5.5h-5.5z M240.5 157.5h4.8v4.8h-4.8z M256.1 149.6L258.6 154.0H253.6z M253.0 167.7h4.5v4.5h-4.5z M260.1 176.9L266.1 183.0M260.1 183.0L266.1 176.9 M257.4 153.6L260.3 159.0H254.4z M251.9 151.5L254.5 156.1H249.4z M225.6 165.6L231.0 171.0M225.6 171.0L231.0 165.6 M245.8 149.0L250.5 153.6M245.8 153.6L250.5 149.0 M222.1 148.8h5.8v5.8h-5.8z M256.2 151.3L261.6 156.7M256.2 156.7L261.6 151.3 M243.9 161.4L250.5 168.0M243.9 168.0L250.5 161.4 M222.0 168.5h4.8v4.8h-4.8z M240.4 174.4h5.7v5.7h-5.7z M233.1 164.0L235.6 168.6H230.6z M241.2 151.5L246.2 156.5M241.2 156.5L246.2 151.5 M249.9 152.3h6.1v6.1h-6.1z M223.3 167.7L227.9 172.3M223.3 172.3L227.9 167.7 M243.7 153.9h6.5v6.5h-6.5z M233.3 171.7h4.5v4.5h-4.5z M220.9 151.2h6.7v6.7h-6.7z M228.0 150.1h6.7v6.7h-6.7z M253.5 151.2L259.4 157.1M253.5 157.1L259.4 151.2 M228.9 157.1L234.8 162.9M228.9 162.9L234.8 157.1 M235.0 150.9h6.4v6.4h-6.4z M252.6 159.8h6.4v6.4h-6.4z M243.8 164.1L250.0 170.3M243.8 170.3L250.0 164.1 M223.6 148.6L228.5 153.4M223.6 153.4L228.5 148.6" stroke="#1e0f00" stroke-width="0.8" fill="none" clip-path="url(#clob)"/>
<polygon points="203.0,186.0 205.0,177.0 212.0,172.5 222.0,167.0 230.0,164.0 234.0,166.0 226.0,180.0 216.0,185.0" fill="#8064a2" />
<polygon points="195.0,193.0 198.0,187.0 208.0,184.5 218.0,182.0 225.0,181.0 222.0,189.0 208.0,194.0" fill="#31a0c0" />
<polygon points="215.0,183.0 222.0,176.0 229.0,175.0 226.0,183.0" fill="#31a0c0" />
<rect x="210.8" y="173.8" width="4.5" height="4.5" fill="#7030a0" stroke="none" stroke-width="0.5"/>
<rect x="216.8" y="170.8" width="4.5" height="4.5" fill="#7030a0" stroke="none" stroke-width="0.5"/>
<rect x="196.5" y="184.5" width="4" height="4" fill="#00b050" stroke="none" stroke-width="0.5"/>
<rect x="208.0" y="184.0" width="4" height="4" fill="#00b050" stroke="none" stroke-width="0.5"/>
<rect x="224.5" y="180.0" width="4" height="4" fill="#00b050" stroke="none" stroke-width="0.5"/>
<rect x="229.0" y="175.5" width="4" height="4" fill="#00b050" stroke="none" stroke-width="0.5"/>
<rect x="199.5" y="176.5" width="6" height="6" fill="none" stroke="#111" stroke-width="0.6"/>
<rect x="193.5" y="181.5" width="6" height="6" fill="none" stroke="#111" stroke-width="0.6"/>
<rect x="206.0" y="173.5" width="6" height="6" fill="none" stroke="#111" stroke-width="0.6"/>
<rect x="203.0" y="171.0" width="6" height="6" fill="none" stroke="#111" stroke-width="0.6"/>
<polygon points="203.0,196.3 238.0,175.1 238.0,178.1 203.0,199.3" fill="#5cb85c" />
<polygon points="213.0,191.2 216.8,195.0 213.0,198.8 209.2,195.0" fill="#c6d9f1" stroke="#8497b0" stroke-width="0.6"/>
<polygon points="218.0,189.2 221.8,193.0 218.0,196.8 214.2,193.0" fill="#c6d9f1" stroke="#8497b0" stroke-width="0.6"/>
<polygon points="217.0,194.7 220.8,198.5 217.0,202.3 213.2,198.5" fill="#c6d9f1" stroke="#8497b0" stroke-width="0.6"/>
<polygon points="222.0,192.2 225.8,196.0 222.0,199.8 218.2,196.0" fill="#c6d9f1" stroke="#8497b0" stroke-width="0.6"/>
<polygon points="212.5,196.2 216.3,200.0 212.5,203.8 208.7,200.0" fill="#c6d9f1" stroke="#8497b0" stroke-width="0.6"/>
<polygon points="187.5,190.4 191.5,194.4 187.5,198.4 183.5,194.4" fill="#ffff00" stroke="#333" stroke-width="0.5"/>
<polygon points="184.7,196.0 188.7,200.0 184.7,204.0 180.7,200.0" fill="#ffff00" stroke="#333" stroke-width="0.5"/>
<polygon points="191.0,194.5 195.0,198.5 191.0,202.5 187.0,198.5" fill="#ffff00" stroke="#333" stroke-width="0.5"/>
<polygon points="194.5,198.5 198.5,202.5 194.5,206.5 190.5,202.5" fill="#ffff00" stroke="#333" stroke-width="0.5"/>
<polygon points="198.0,194.0 202.0,198.0 198.0,202.0 194.0,198.0" fill="#ffff00" stroke="#333" stroke-width="0.5"/>
<polygon points="199.5,199.0 203.5,203.0 199.5,207.0 195.5,203.0" fill="#ffff00" stroke="#333" stroke-width="0.5"/>
<polygon points="193.0,189.0 197.0,193.0 193.0,197.0 189.0,193.0" fill="#ffff00" stroke="#333" stroke-width="0.5"/>
<rect x="170.2" y="207.4" width="5.5" height="5.5" fill="#a0403c" stroke="none" stroke-width="0.5"/>
<circle cx="181.4" cy="212.7" r="3.8" fill="#fff" stroke="#444" stroke-width="0.6"/>
<polygon points="230.0,185.5 246.0,176.8 256.0,171.8 256.0,174.8 244.0,182.5 230.0,189.0" fill="#31a0c0" />
<polygon points="237.5,184.9 243.5,184.9 240.5,179.5" fill="#ff0000" stroke="none" stroke-width="0.5"/>
<polygon points="249.0,179.4 255.0,179.4 252.0,174.0" fill="#ff0000" stroke="none" stroke-width="0.5"/>
<polygon points="253.0,179.4 259.0,179.4 256.0,174.0" fill="#ff0000" stroke="none" stroke-width="0.5"/>
<rect x="273.9" y="165.1" width="4.2" height="4.2" fill="#00b050" stroke="none" stroke-width="0.5"/>
<rect x="277.5" y="162.6" width="4.2" height="4.2" fill="#00b050" stroke="none" stroke-width="0.5"/>
<rect x="281.1" y="160.1" width="4.2" height="4.2" fill="#00b050" stroke="none" stroke-width="0.5"/>
<rect x="284.7" y="157.6" width="4.2" height="4.2" fill="#00b050" stroke="none" stroke-width="0.5"/>
<rect x="288.3" y="155.2" width="4.2" height="4.2" fill="#00b050" stroke="none" stroke-width="0.5"/>
<rect x="291.9" y="152.7" width="4.2" height="4.2" fill="#00b050" stroke="none" stroke-width="0.5"/>
<rect x="255.5" y="166.5" width="5" height="5" fill="#fff" stroke="#222" stroke-width="0.6"/>
<rect x="260.5" y="164.0" width="5" height="5" fill="#fff" stroke="#222" stroke-width="0.6"/>
<rect x="265.0" y="161.5" width="5" height="5" fill="#fff" stroke="#222" stroke-width="0.6"/>
<rect x="260.8" y="161.8" width="2.5" height="2.5" fill="#ffff00" stroke="none" stroke-width="0.5"/>
<rect x="270.8" y="156.8" width="2.5" height="2.5" fill="#ffff00" stroke="none" stroke-width="0.5"/>
<rect x="281.8" y="152.8" width="2.5" height="2.5" fill="#ffff00" stroke="none" stroke-width="0.5"/>
<rect x="289.8" y="148.8" width="2.5" height="2.5" fill="#ffff00" stroke="none" stroke-width="0.5"/>
<rect x="266.8" y="159.8" width="2.5" height="2.5" fill="#ffff00" stroke="none" stroke-width="0.5"/>
<rect x="276.8" y="155.8" width="2.5" height="2.5" fill="#ffff00" stroke="none" stroke-width="0.5"/>
<rect x="242.2" y="178.2" width="3.5" height="3.5" fill="#4bacc6" stroke="none" stroke-width="0.5"/>
<rect x="247.2" y="176.2" width="3.5" height="3.5" fill="#00b050" stroke="none" stroke-width="0.5"/>
<rect x="260.2" y="170.2" width="3.5" height="3.5" fill="#ffff00" stroke="none" stroke-width="0.5"/>
<rect x="264.2" y="166.2" width="3.5" height="3.5" fill="#4bacc6" stroke="none" stroke-width="0.5"/>
<rect x="278.2" y="158.2" width="3.5" height="3.5" fill="#00b050" stroke="none" stroke-width="0.5"/>
<rect x="283.2" y="158.2" width="3.5" height="3.5" fill="#00b050" stroke="none" stroke-width="0.5"/>
<rect x="289.2" y="156.2" width="3.5" height="3.5" fill="#00b050" stroke="none" stroke-width="0.5"/>
<rect x="274.2" y="163.2" width="3.5" height="3.5" fill="#ffff00" stroke="none" stroke-width="0.5"/>
<rect x="256.2" y="173.2" width="3.5" height="3.5" fill="#1f8fb0" stroke="none" stroke-width="0.5"/>
<rect x="268.2" y="166.2" width="3.5" height="3.5" fill="#111" stroke="none" stroke-width="0.5"/>
<rect x="295.2" y="150.2" width="3.5" height="3.5" fill="#00b050" stroke="none" stroke-width="0.5"/>
<rect x="298.7" y="146.4" width="2.6" height="2.6" fill="#9dc3e6" stroke="none" stroke-width="0.5"/>
<rect x="304.7" y="141.8" width="2.6" height="2.6" fill="#9dc3e6" stroke="none" stroke-width="0.5"/>
<rect x="310.7" y="138.8" width="2.6" height="2.6" fill="#9dc3e6" stroke="none" stroke-width="0.5"/>
<rect x="316.7" y="134.9" width="2.6" height="2.6" fill="#9dc3e6" stroke="none" stroke-width="0.5"/>
<rect x="322.7" y="130.1" width="2.6" height="2.6" fill="#9dc3e6" stroke="none" stroke-width="0.5"/>
<rect x="328.7" y="127.2" width="2.6" height="2.6" fill="#9dc3e6" stroke="none" stroke-width="0.5"/>
<rect x="334.7" y="124.8" width="2.6" height="2.6" fill="#9dc3e6" stroke="none" stroke-width="0.5"/>
<rect x="340.7" y="122.4" width="2.6" height="2.6" fill="#9dc3e6" stroke="none" stroke-width="0.5"/>
<rect x="346.7" y="119.7" width="2.6" height="2.6" fill="#9dc3e6" stroke="none" stroke-width="0.5"/>
<rect x="352.7" y="116.6" width="2.6" height="2.6" fill="#9dc3e6" stroke="none" stroke-width="0.5"/>
<rect x="358.7" y="113.6" width="2.6" height="2.6" fill="#9dc3e6" stroke="none" stroke-width="0.5"/>
<rect x="364.7" y="110.5" width="2.6" height="2.6" fill="#9dc3e6" stroke="none" stroke-width="0.5"/>
<rect x="370.7" y="106.9" width="2.6" height="2.6" fill="#9dc3e6" stroke="none" stroke-width="0.5"/>
<rect x="376.7" y="103.2" width="2.6" height="2.6" fill="#9dc3e6" stroke="none" stroke-width="0.5"/>
<rect x="382.7" y="99.6" width="2.6" height="2.6" fill="#9dc3e6" stroke="none" stroke-width="0.5"/>
<rect x="388.7" y="95.0" width="2.6" height="2.6" fill="#9dc3e6" stroke="none" stroke-width="0.5"/>
<circle cx="148.1" cy="214.4" r="2.4" fill="#000" stroke="none" stroke-width="0.5"/>
<circle cx="157.2" cy="209.3" r="2.4" fill="#000" stroke="none" stroke-width="0.5"/>
<circle cx="166.3" cy="204.1" r="2.4" fill="#000" stroke="none" stroke-width="0.5"/>
<circle cx="175.4" cy="199.0" r="2.4" fill="#000" stroke="none" stroke-width="0.5"/>
<circle cx="184.5" cy="193.9" r="2.4" fill="#000" stroke="none" stroke-width="0.5"/>
<circle cx="193.6" cy="188.7" r="2.4" fill="#000" stroke="none" stroke-width="0.5"/>
<circle cx="248.2" cy="157.9" r="2.4" fill="#000" stroke="none" stroke-width="0.5"/>
<circle cx="257.3" cy="152.8" r="2.4" fill="#000" stroke="none" stroke-width="0.5"/>
<circle cx="266.4" cy="147.7" r="2.4" fill="#000" stroke="none" stroke-width="0.5"/>
<circle cx="275.5" cy="142.5" r="2.4" fill="#000" stroke="none" stroke-width="0.5"/>
<circle cx="284.6" cy="137.4" r="2.4" fill="#000" stroke="none" stroke-width="0.5"/>
<circle cx="293.7" cy="132.3" r="2.4" fill="#000" stroke="none" stroke-width="0.5"/>
<circle cx="302.8" cy="127.1" r="2.4" fill="#000" stroke="none" stroke-width="0.5"/>
<line x1="147.5" y1="206.8" x2="306" y2="124.7" stroke="#000" stroke-width="2" stroke-dasharray="7.5 7.8 1.8 7.3"/>
<line x1="147.5" y1="228.3" x2="472" y2="32.2" stroke="#ff0000" stroke-width="3.4"/>
<line x1="124.7" y1="205.3" x2="422.3" y2="24.6" stroke="#808080" stroke-width="3.2"/><polygon points="429.1,20.4 423.2,29.9 418.0,21.3" fill="#808080"/><polygon points="117.9,209.5 129.0,208.6 123.8,200.0" fill="#808080"/>
<rect x="409.5" y="102" width="114.5" height="38.5" fill="#fff"/>
<text x="411.8" y="120.1" font-family='"Liberation Sans", sans-serif' font-size="11.6" fill="#262626" class="lg">y = 1.20E-10 x<tspan font-size="7.9" dy="-4.5">2.12E+00</tspan></text>
<text x="430.7" y="135.9" font-family='"Liberation Sans", sans-serif' font-size="11.6" fill="#262626" class="lg">R<tspan font-size="7.6" dy="-4.6">2</tspan><tspan dy="4.6"> = 9.94E-01</tspan></text>
<line x1="451.7" y1="95.7" x2="429.7" y2="63.6" stroke="#000" stroke-width="3"/><polygon points="426.1,58.3 434.1,62.5 427.1,67.3" fill="#000"/>
<text x="62.5" y="24.9" font-family='"Liberation Sans", sans-serif' font-size="13.4" fill="#000" class="lg">10<tspan font-size="9.5" dy="-4.6">-4</tspan></text>
<text x="62.5" y="53.8" font-family='"Liberation Sans", sans-serif' font-size="13.4" fill="#000" class="lg">10<tspan font-size="9.5" dy="-4.6">-5</tspan></text>
<text x="62.5" y="82.8" font-family='"Liberation Sans", sans-serif' font-size="13.4" fill="#000" class="lg">10<tspan font-size="9.5" dy="-4.6">-6</tspan></text>
<text x="62.5" y="111.7" font-family='"Liberation Sans", sans-serif' font-size="13.4" fill="#000" class="lg">10<tspan font-size="9.5" dy="-4.6">-7</tspan></text>
<text x="62.5" y="140.6" font-family='"Liberation Sans", sans-serif' font-size="13.4" fill="#000" class="lg">10<tspan font-size="9.5" dy="-4.6">-8</tspan></text>
<text x="62.5" y="169.6" font-family='"Liberation Sans", sans-serif' font-size="13.4" fill="#000" class="lg">10<tspan font-size="9.5" dy="-4.6">-9</tspan></text>
<text x="62.5" y="198.5" font-family='"Liberation Sans", sans-serif' font-size="13.4" fill="#000" class="lg">10<tspan font-size="9.5" dy="-4.6">-10</tspan></text>
<text x="62.5" y="227.4" font-family='"Liberation Sans", sans-serif' font-size="13.4" fill="#000" class="lg">10<tspan font-size="9.5" dy="-4.6">-11</tspan></text>
<text x="96.3" y="247.5" text-anchor="middle" font-family='"Liberation Sans", sans-serif' font-size="13.8" fill="#000" class="lg">0.1</text>
<text x="203.6" y="247.5" text-anchor="middle" font-family='"Liberation Sans", sans-serif' font-size="13.8" fill="#000" class="lg">1</text>
<text x="310.9" y="247.5" text-anchor="middle" font-family='"Liberation Sans", sans-serif' font-size="13.8" fill="#000" class="lg">10</text>
<text x="418.2" y="247.5" text-anchor="middle" font-family='"Liberation Sans", sans-serif' font-size="13.8" fill="#000" class="lg">100</text>
<text x="525.5" y="247.5" text-anchor="middle" font-family='"Liberation Sans", sans-serif' font-size="13.8" fill="#000" class="lg">1000</text>
<text x="219.6" y="254" font-family='"Liberation Sans", sans-serif' font-size="15.2" font-weight="bold" fill="#000"><tspan font-size="17.3">Δ</tspan><tspan font-style="italic" font-size="16.6">κ</tspan><tspan x="245.6">MPa √m</tspan></text>
<text transform="translate(26.9,209.2) rotate(-90)" font-family='"Liberation Sans", sans-serif' font-size="14.5" font-weight="bold" fill="#000"><tspan font-style="italic">da/dN</tspan> (m/cycle)</text>
<line x1="11.8" y1="265.5" x2="31.8" y2="265.5" stroke="#22629e" stroke-width="1.9" stroke-linecap="butt"/><polygon points="21.8,262.9 24.400000000000002,265.5 21.8,268.1 19.2,265.5" fill="#22629e" stroke="none" stroke-width="0.6"/><text x="33.6" y="268.4" font-family='"Liberation Sans", sans-serif' font-size="8.2" fill="#000" class="lg">Nasgro R = 0.8</text>
<rect x="19.3" y="271.88" width="5.0" height="5.0" fill="#953735" stroke="none" stroke-width="0.6"/><text x="33.6" y="277.3" font-family='"Liberation Sans", sans-serif' font-size="8.2" fill="#000" class="lg">Nasgro R = 0.1</text>
<polygon points="18.900000000000002,285.58 24.7,285.58 21.8,280.36" fill="#ff0000" stroke="none" stroke-width="0.6"/><text x="33.6" y="286.2" font-family='"Liberation Sans", sans-serif' font-size="8.2" fill="#000" class="lg">Konecna SLM R = 0.1</text>
<polygon points="19.2,294.21999999999997 24.400000000000002,294.21999999999997 21.8,289.53999999999996" fill="#ffff00" stroke="#8fae4a" stroke-width="0.9"/><text x="33.6" y="295.1" font-family='"Liberation Sans", sans-serif' font-size="8.2" fill="#000" class="lg">NASA SLM Lab B R = 0.1</text>
<polygon points="21.8,298.41999999999996 24.400000000000002,301.02 21.8,303.62 19.2,301.02" fill="#7f5fa9" stroke="none" stroke-width="0.6"/><text x="33.6" y="304.0" font-family='"Liberation Sans", sans-serif' font-size="8.2" fill="#000" class="lg">NASA SLM Lab B R = 0.7</text>
<line x1="11.8" y1="309.9" x2="31.8" y2="309.9" stroke="#f79646" stroke-width="1.8" stroke-linecap="butt"/><text x="33.6" y="312.8" font-family='"Liberation Sans", sans-serif' font-size="8.2" fill="#000" class="lg">Paluskiewicz R = 0.5, 100C</text>
<line x1="11.8" y1="318.8" x2="31.8" y2="318.8" stroke="#8fbc5a" stroke-width="1.6" stroke-linecap="butt"/><polygon points="19.400000000000002,320.7 24.2,320.7 21.8,316.38" fill="#8fbc5a" stroke="none" stroke-width="0.6"/><text x="33.6" y="321.7" font-family='"Liberation Sans", sans-serif' font-size="8.2" fill="#000" class="lg">Paluskiewicz R = -2, 100C</text>
<line x1="11.8" y1="327.7" x2="31.8" y2="327.7" stroke="#fa9e5e" stroke-width="1.8" stroke-linecap="butt"/><circle cx="21.8" cy="327.66" r="2.8" fill="#fa9e5e" stroke="none" stroke-width="0.6"/><text x="33.6" y="330.6" font-family='"Liberation Sans", sans-serif' font-size="8.2" fill="#000" class="lg">Ostergaard LPBF, R = 0.1, S-DA XZ</text>
<rect x="19.5" y="334.24" width="4.6" height="4.6" fill="#fff" stroke="#333" stroke-width="0.8"/><text x="33.6" y="339.5" font-family='"Liberation Sans", sans-serif' font-size="8.2" fill="#000" class="lg">Yadollahi LPBF R = 0.1</text>
<line x1="11.8" y1="345.4" x2="31.8" y2="345.4" stroke="#b4c7e7" stroke-width="1.5" stroke-linecap="butt"/><polygon points="21.8,342.92 24.3,345.42 21.8,347.92 19.3,345.42" fill="#fff" stroke="#1f497d" stroke-width="0.8"/><text x="33.6" y="348.4" font-family='"Liberation Sans", sans-serif' font-size="8.2" fill="#000" class="lg">Yu, LDED, R = 0.1, As built</text>
<line x1="11.5" y1="354.3" x2="18" y2="354.3" stroke="#000" stroke-width="2.4"/><rect x="26.3" y="353.2" width="2.2" height="2.2" fill="#000"/><text x="33.6" y="357.2" font-family='"Liberation Sans", sans-serif' font-size="8.2" fill="#000" class="lg">17-4 Ph steel</text>
<circle cx="202.3" cy="265.5" r="2.3" fill="#fff" stroke="#333" stroke-width="0.8"/><text x="214.1" y="268.4" font-family='"Liberation Sans", sans-serif' font-size="8.2" fill="#000" class="lg">Nasgro R = 0.7</text>
<polygon points="202.3,271.78 204.9,274.38 202.3,276.98 199.70000000000002,274.38" fill="#ffff00" stroke="#4d4d00" stroke-width="0.7"/><text x="214.1" y="277.3" font-family='"Liberation Sans", sans-serif' font-size="8.2" fill="#000" class="lg">Newman &amp; Yamada R = 0.7</text>
<circle cx="202.3" cy="283.26" r="2.5" fill="#000" stroke="#953735" stroke-width="0.7"/><text x="214.1" y="286.2" font-family='"Liberation Sans", sans-serif' font-size="8.2" fill="#000" class="lg">NASA SLM MFCS R = 0.1</text>
<path d="M200.0 289.84L204.60000000000002 294.44M200.0 294.44L204.60000000000002 289.84M202.3 289.84V294.44" stroke="#e06c6c" stroke-width="0.9"/><text x="214.1" y="295.1" font-family='"Liberation Sans", sans-serif' font-size="8.2" fill="#000" class="lg">NASA SLM Lab C R = 0.1</text>
<path d="M200.0 298.71999999999997L204.60000000000002 303.32M200.0 303.32L204.60000000000002 298.71999999999997" stroke="#4f9fd9" stroke-width="0.9"/><text x="214.1" y="304.0" font-family='"Liberation Sans", sans-serif' font-size="8.2" fill="#000" class="lg">NASA SLM Lab C R = 0.7</text>
<line x1="192.3" y1="309.9" x2="212.3" y2="309.9" stroke="#3a7dc9" stroke-width="1.8" stroke-linecap="butt"/><polygon points="202.3,307.29999999999995 204.9,309.9 202.3,312.5 199.70000000000002,309.9" fill="#3a7dc9" stroke="none" stroke-width="0.6"/><text x="214.1" y="312.8" font-family='"Liberation Sans", sans-serif' font-size="8.2" fill="#000" class="lg">Paluskiewicz R = 0.1, 100C</text>
<line x1="192.3" y1="318.8" x2="212.3" y2="318.8" stroke="#9f7fcf" stroke-width="1.6" stroke-linecap="butt"/><path d="M200.0 316.47999999999996L204.60000000000002 321.08M200.0 321.08L204.60000000000002 316.47999999999996" stroke="#7f5fa9" stroke-width="0.9"/><text x="214.1" y="321.7" font-family='"Liberation Sans", sans-serif' font-size="8.2" fill="#000" class="lg">Ostergaard LPBF, Kmax =36, S-DA XZ</text>
<line x1="192.3" y1="327.7" x2="212.3" y2="327.7" stroke="#8db4e2" stroke-width="1.5" stroke-linecap="butt"/><path d="M199.8 327.66H204.8M202.3 325.16V330.16" stroke="#6d94c2" stroke-width="0.9"/><text x="214.1" y="330.6" font-family='"Liberation Sans", sans-serif' font-size="8.2" fill="#000" class="lg">Ostergaard LPBF, R = 0.1, HIP XZ</text>
<line x1="192.3" y1="336.5" x2="212.3" y2="336.5" stroke="#c3d69b" stroke-width="1.2" stroke-linecap="butt"/><circle cx="202.3" cy="336.54" r="2.5" fill="#d7e4bd" stroke="#4f6228" stroke-width="0.8"/><text x="214.1" y="339.5" font-family='"Liberation Sans", sans-serif' font-size="8.2" fill="#000" class="lg">Yadollahi LPBF R = 0.7</text>
<line x1="192.3" y1="345.4" x2="212.3" y2="345.4" stroke="#a9d18e" stroke-width="3.4" stroke-linecap="round"/><text x="214.1" y="348.4" font-family='"Liberation Sans", sans-serif' font-size="8.2" fill="#000" class="lg">Ti-6Al-4V</text>
<polygon points="380.4,267.5 385.4,267.5 382.9,263.0" fill="#fff" stroke="#333" stroke-width="0.8"/><text x="394.7" y="268.4" font-family='"Liberation Sans", sans-serif' font-size="8.2" fill="#000" class="lg">Nasgro R = 0.4</text>
<polygon points="382.9,271.98 385.29999999999995,274.38 382.9,276.78 380.5,274.38" fill="#00a050" stroke="#1f497d" stroke-width="0.4"/><text x="394.7" y="277.3" font-family='"Liberation Sans", sans-serif' font-size="8.2" fill="#000" class="lg">Newman &amp; Yamada R = 0.1</text>
<circle cx="382.9" cy="283.26" r="2.7" fill="#8fbc5a" stroke="none" stroke-width="0.6"/><text x="394.7" y="286.2" font-family='"Liberation Sans", sans-serif' font-size="8.2" fill="#000" class="lg">NASA SLM M1-0253 R = 0.1</text>
<rect x="380.4" y="289.64" width="5.0" height="5.0" fill="#1f9bbd" stroke="none" stroke-width="0.6"/><text x="394.7" y="295.1" font-family='"Liberation Sans", sans-serif' font-size="8.2" fill="#000" class="lg">NASA SLM MFS R = 0.7</text>
<polygon points="380.0,303.34 385.79999999999995,303.34 382.9,298.12" fill="#f07c28" stroke="none" stroke-width="0.6"/><text x="394.7" y="304.0" font-family='"Liberation Sans", sans-serif' font-size="8.2" fill="#000" class="lg">NASA SLM M1-200 R = 0.7</text>
<line x1="372.9" y1="309.9" x2="392.9" y2="309.9" stroke="#dd6b66" stroke-width="1.8" stroke-linecap="butt"/><rect x="380.4" y="307.4" width="5.0" height="5.0" fill="#dd6b66" stroke="none" stroke-width="0.6"/><text x="394.7" y="312.8" font-family='"Liberation Sans", sans-serif' font-size="8.2" fill="#000" class="lg">Paluskiewicz R = -1, 100C</text>
<line x1="372.9" y1="318.8" x2="392.9" y2="318.8" stroke="#3ab5d5" stroke-width="1.8" stroke-linecap="butt"/><path d="M380.59999999999997 316.47999999999996L385.2 321.08M380.59999999999997 321.08L385.2 316.47999999999996M382.9 316.47999999999996V321.08" stroke="#3ab5d5" stroke-width="0.9"/><text x="394.7" y="321.7" font-family='"Liberation Sans", sans-serif' font-size="8.2" fill="#000" class="lg">Ostergaard LPBF, Kmax =36 HIP ZX</text>
<line x1="372.9" y1="327.7" x2="392.9" y2="327.7" stroke="#eda3a3" stroke-width="1.6" stroke-linecap="butt"/><text x="394.7" y="330.6" font-family='"Liberation Sans", sans-serif' font-size="8.2" fill="#000" class="lg">Ostergaard LPBF, R = 0.1, HIP ZX</text>
<line x1="372.9" y1="336.5" x2="392.9" y2="336.5" stroke="#fac090" stroke-width="1.5" stroke-linecap="butt"/><polygon points="380.4,338.54 385.4,338.54 382.9,334.04" fill="#fac090" stroke="none" stroke-width="0.6"/><text x="394.7" y="339.5" font-family='"Liberation Sans", sans-serif' font-size="8.2" fill="#000" class="lg">Kim LPBF, R = 0.1</text>
<circle cx="373.2" cy="345.4" r="1.9" fill="#000"/><circle cx="380.4" cy="345.4" r="1.9" fill="#000"/><circle cx="387.6" cy="345.4" r="1.9" fill="#000"/><text x="394.7" y="348.4" font-family='"Liberation Sans", sans-serif' font-size="8.2" fill="#000" class="lg">Inconel 625</text>
</svg>
</body></html>
